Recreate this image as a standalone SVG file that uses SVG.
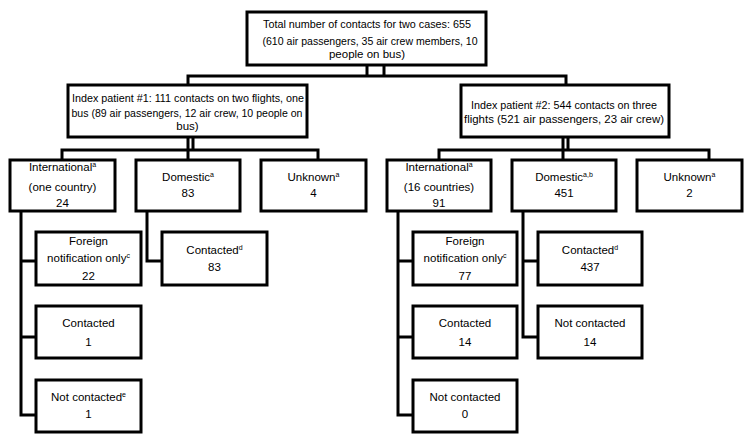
<svg xmlns="http://www.w3.org/2000/svg" width="748" height="448" viewBox="0 0 748 448">
<style>
.box{fill:#fff;stroke:#000;stroke-width:3}
.ln{fill:none;stroke:#000;stroke-width:3}
text{font-family:"Liberation Sans",Arial,sans-serif;font-size:11.5px;fill:#000;text-anchor:middle}
.sup{font-size:7px}
</style>
<rect width="748" height="448" fill="#fff"/>
<g id="connectors">
<path class="ln" d="M367,65V76M384,65V76M188,85V76H566V85"/>
<path class="ln" d="M188,137V160M193,137V150M62,160V150H318V160"/>
<path class="ln" d="M563,137V160M568,137V150M439,160V150H709V160"/>
<path class="ln" d="M21,211V415H36M21,261H36M21,337H36"/>
<path class="ln" d="M147,211V261H162"/>
<path class="ln" d="M398,211V415H413M398,261H413M398,337H413"/>
<path class="ln" d="M523,211V337H538M523,261H538"/>
</g>
<g id="total"><rect class="box" x="247" y="12" width="239" height="53"/>
<text x="367" y="28" textLength="208" lengthAdjust="spacingAndGlyphs">Total number of contacts for two cases: 655</text>
<text x="370" y="45" textLength="215" lengthAdjust="spacingAndGlyphs">(610 air passengers, 35 air crew members, 10</text>
<text x="367" y="58">people on bus)</text></g>
<g id="index1"><rect class="box" x="68" y="85" width="239" height="52"/>
<text x="188" y="102" textLength="232" lengthAdjust="spacingAndGlyphs">Index patient #1: 111 contacts on two flights, one</text>
<text x="187" y="117" textLength="231" lengthAdjust="spacingAndGlyphs">bus (89 air passengers, 12 air crew, 10 people on</text>
<text x="187.5" y="130">bus)</text></g>
<g id="index2"><rect class="box" x="461" y="85" width="208" height="52"/>
<text x="564" y="109" textLength="186" lengthAdjust="spacingAndGlyphs">Index patient #2: 544 contacts on three</text>
<text x="564" y="123" textLength="200" lengthAdjust="spacingAndGlyphs">flights (521 air passengers, 23 air crew)</text></g>
<g id="intl1"><rect class="box" x="10" y="160" width="105" height="51"/>
<text x="62.5" y="171">International<tspan class="sup" dy="-4">a</tspan></text>
<text x="62.5" y="191">(one country)</text>
<text x="62.5" y="207">24</text></g>
<g id="dom1"><rect class="box" x="136" y="160" width="104" height="51"/>
<text x="188" y="181">Domestic<tspan class="sup" dy="-4">a</tspan></text>
<text x="188" y="197">83</text></g>
<g id="unk1"><rect class="box" x="261" y="160" width="105" height="51"/>
<text x="313.5" y="181">Unknown<tspan class="sup" dy="-4">a</tspan></text>
<text x="313.5" y="197">4</text></g>
<g id="intl2"><rect class="box" x="387" y="160" width="104" height="51"/>
<text x="439" y="171">International<tspan class="sup" dy="-4">a</tspan></text>
<text x="439" y="191">(16 countries)</text>
<text x="439" y="207">91</text></g>
<g id="dom2"><rect class="box" x="512" y="160" width="104" height="51"/>
<text x="564" y="181">Domestic<tspan class="sup" dy="-4">a,b</tspan></text>
<text x="564" y="197">451</text></g>
<g id="unk2"><rect class="box" x="637" y="160" width="105" height="51"/>
<text x="689.5" y="181">Unknown<tspan class="sup" dy="-4">a</tspan></text>
<text x="689.5" y="197">2</text></g>
<g id="foreign1"><rect class="box" x="36" y="232" width="105" height="53"/>
<text x="88.5" y="245">Foreign</text>
<text x="88.5" y="262">notification only<tspan class="sup" dy="-4">c</tspan></text>
<text x="88.5" y="280">22</text></g>
<g id="contacted1"><rect class="box" x="36" y="306" width="105" height="52"/>
<text x="88.5" y="327">Contacted</text>
<text x="88.5" y="346">1</text></g>
<g id="notcontacted1"><rect class="box" x="36" y="380" width="105" height="52"/>
<text x="88.5" y="401">Not contacted<tspan class="sup" dy="-4">e</tspan></text>
<text x="88.5" y="418">1</text></g>
<g id="contactedd1"><rect class="box" x="162" y="232" width="105" height="53"/>
<text x="214.5" y="254">Contacted<tspan class="sup" dy="-4">d</tspan></text>
<text x="214.5" y="271">83</text></g>
<g id="foreign2"><rect class="box" x="413" y="232" width="104" height="53"/>
<text x="465" y="245">Foreign</text>
<text x="465" y="262">notification only<tspan class="sup" dy="-4">c</tspan></text>
<text x="465" y="280">77</text></g>
<g id="contacted2"><rect class="box" x="413" y="306" width="104" height="52"/>
<text x="465" y="327">Contacted</text>
<text x="465" y="346">14</text></g>
<g id="notcontacted2"><rect class="box" x="413" y="380" width="104" height="52"/>
<text x="465" y="401">Not contacted</text>
<text x="465" y="418">0</text></g>
<g id="contactedd2"><rect class="box" x="538" y="232" width="104" height="53"/>
<text x="590" y="254">Contacted<tspan class="sup" dy="-4">d</tspan></text>
<text x="590" y="271">437</text></g>
<g id="notcontacted3"><rect class="box" x="538" y="306" width="104" height="52"/>
<text x="590" y="327">Not contacted</text>
<text x="590" y="346">14</text></g>
</svg>
